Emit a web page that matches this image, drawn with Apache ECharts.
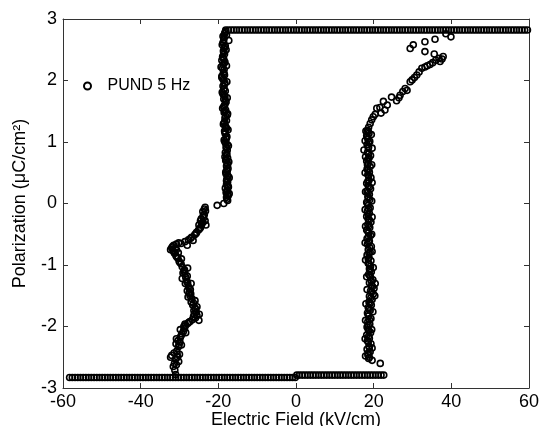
<!DOCTYPE html>
<html>
<head>
<meta charset="utf-8">
<script src="https://cdn.jsdelivr.net/npm/echarts@6/dist/echarts.min.js"></script>
<style>html,body{margin:0;padding:0;background:#fff}#c{width:541px;height:426px}</style>
</head>
<body>
<div id="c"></div>
<script>
// ---- data ----
var xTicks = [-60, -40, -20, 0, 20, 40, 60];
var yTicks = [-3, -2, -1, 0, 1, 2, 3];
var seriesName = 'PUND 5 Hz';

// flat saturated segments: x positions + their level
var bottomLeftLevel = -2.83;
var bottomLeftX = [-58.3,-57.6,-56.9,-56.2,-55.5,-54.8,-54.1,-53.4,-52.7,-52.0,-51.3,-50.6,-49.9,-49.2,-48.5,-47.8,-47.1,-46.4,-45.7,-45.0,-44.3,-43.6,-42.9,-42.2,-41.5,-40.8,-40.1,-39.4,-38.7,-38.0,-37.3,-36.6,-35.9,-35.2,-34.5,-33.8,-33.1,-32.4,-31.7,-31.0,-30.3,-29.6,-28.9,-28.2,-27.5,-26.8,-26.1,-25.4,-24.7,-24.0,-23.3,-22.6,-21.9,-21.2,-20.5,-19.8,-19.1,-18.4,-17.7,-17.0,-16.3,-15.6,-14.9,-14.2,-13.5,-12.8,-12.1,-11.4,-10.7,-10.0,-9.3,-8.6,-7.9,-7.2,-6.5,-5.8,-5.1,-4.4,-3.7,-3.0,-2.3,-1.6,-0.9,-0.2];
var bottomRightLevel = -2.79;
var bottomRightX = [0.2,0.9,1.6,2.3,3.0,3.7,4.4,5.1,5.8,6.5,7.2,7.9,8.6,9.3,10.0,10.7,11.4,12.1,12.8,13.5,14.2,14.9,15.6,16.3,17.0,17.7,18.4,19.1,19.8,20.5,21.2,21.9,22.6];
var topLevel = 2.82;
var topX = [-18.1,-17.4,-16.7,-16.0,-15.3,-14.6,-13.9,-13.2,-12.5,-11.8,-11.1,-10.4,-9.7,-9.0,-8.3,-7.6,-6.9,-6.2,-5.5,-4.8,-4.1,-3.4,-2.7,-2.0,-1.3,-0.6,0.1,0.8,1.5,2.2,2.9,3.6,4.3,5.0,5.7,6.4,7.1,7.8,8.5,9.2,9.9,10.6,11.3,12.0,12.7,13.4,14.1,14.8,15.5,16.2,16.9,17.6,18.3,19.0,19.7,20.4,21.1,21.8,22.5,23.2,23.9,24.6,25.3,26.0,26.7,27.4,28.1,28.8,29.5,30.2,30.9,31.6,32.3,33.0,33.7,34.4,35.1,35.8,36.5,37.2,37.9,38.6,39.3,40.0,40.7,41.4,42.1,42.8,43.5,44.2,44.9,45.6,46.3,47.0,47.7,48.4,49.1,49.8,50.5,51.2,51.9,52.6,53.3,54.0,54.7,55.4,56.1,56.8,57.5,58.2,58.9,59.6];

// negative-field switching branch (wiggly part), [E, P]
var leftWiggle = [[-31.0,-2.78],[-31.2,-2.71],[-31.6,-2.65],[-30.8,-2.62],[-30.2,-2.57],[-31.0,-2.53],[-32.0,-2.47],[-31.4,-2.43],[-30.7,-2.40],[-30.3,-2.33],[-30.9,-2.28],[-30.4,-2.23],[-29.8,-2.18],[-29.4,-2.12],[-29.0,-2.08],[-28.7,-2.03],[-28.4,-1.98],[-27.9,-1.95],[-27.3,-1.92],[-26.7,-1.89],[-25.9,-1.86],[-25.5,-1.82],[-25.7,-1.77],[-26.3,-1.74],[-25.5,-1.68],[-26.6,-1.65],[-27.0,-1.60],[-26.8,-1.55],[-27.3,-1.50],[-27.5,-1.45],[-27.2,-1.40],[-27.7,-1.35],[-27.9,-1.29],[-28.2,-1.24],[-28.0,-1.18],[-28.6,-1.14],[-29.1,-1.13],[-28.7,-1.08],[-29.3,-1.03],[-29.6,-0.98],[-30.1,-0.94],[-30.4,-0.89],[-30.9,-0.85],[-31.3,-0.81],[-31.7,-0.76],[-32.0,-0.72],[-31.5,-0.68],[-30.8,-0.66],[-29.6,-0.65],[-28.6,-0.62],[-27.7,-0.59],[-26.9,-0.55],[-26.1,-0.51],[-25.6,-0.47],[-25.1,-0.43],[-24.6,-0.39],[-24.3,-0.34],[-24.0,-0.30],[-23.4,-0.28],[-23.8,-0.23],[-23.6,-0.18],[-24.0,-0.13],[-23.4,-0.06],[-20.3,-0.03],[-18.6,0.00],
  [-30.5,-2.50],[-29.9,-2.25],[-28.9,-2.00],[-26.2,-1.80],[-26.0,-1.70],[-27.8,-1.52],[-28.5,-1.30],[-28.4,-1.20],[-29.5,-0.90],[-30.3,-0.80],[-31.1,-0.73],[-25.0,-0.35],[-24.4,-0.25],[-23.3,-0.12],
  [-31.3,-2.60],[-30.6,-2.45],[-30.1,-2.30],[-29.6,-2.15],[-28.6,-1.96],[-27.6,-1.93],[-26.4,-1.84],[-25.8,-1.72],[-26.4,-1.62],[-27.1,-1.47],[-27.5,-1.38],[-28.1,-1.27],[-28.8,-1.10],[-29.9,-0.96],[-30.7,-0.87],[-31.5,-0.78],[-31.8,-0.70],[-30.2,-0.64],[-27.2,-0.57],[-25.8,-0.49],[-24.8,-0.41],[-24.2,-0.32],[-23.9,-0.20],[-23.6,-0.09],
  [-32.3,-2.50],[-30.0,-2.45],[-29.5,-2.30],[-30.8,-2.20],[-28.4,-2.10],[-29.8,-2.05],[-24.9,-1.80],[-25.0,-1.90],[-26.0,-1.58],[-28.0,-1.42],[-27.0,-1.30],[-29.3,-1.22],[-27.9,-1.05],[-32.3,-0.75],[-30.8,-0.75],[-28.0,-0.68],[-26.5,-0.60],[-23.2,-0.35],[-24.6,-0.28]];

// negative coercive vertical band
var leftVertical = [[-17.6,0.05],[-17.9,0.10],[-17.5,0.14],[-18.0,0.18],[-17.7,0.22],[-17.4,0.27],[-17.9,0.31],[-17.6,0.35],[-17.8,0.40],[-17.5,0.44],[-18.0,0.48],[-17.7,0.53],[-17.5,0.57],[-17.9,0.61],[-17.7,0.66],[-18.1,0.70],[-17.6,0.74],[-17.9,0.79],[-18.2,0.83],[-17.7,0.87],[-18.0,0.92],[-17.7,0.96],[-18.3,1.00],[-18.0,1.05],[-17.8,1.09],[-18.2,1.13],[-18.4,1.18],[-17.9,1.22],[-18.2,1.26],[-18.5,1.31],[-17.9,1.35],[-18.3,1.39],[-17.7,1.44],[-18.5,1.48],[-18.1,1.52],[-18.6,1.57],[-18.3,1.61],[-18.0,1.65],[-18.6,1.70],[-18.3,1.74],[-18.8,1.78],[-18.2,1.83],[-18.5,1.87],[-18.8,1.91],[-18.3,1.96],[-18.6,2.00],[-19.1,2.05],[-18.4,2.09],[-18.7,2.13],[-18.5,2.18],[-19.3,2.22],[-18.8,2.26],[-18.3,2.30],[-18.6,2.35],[-18.9,2.39],[-18.4,2.43],[-18.7,2.48],[-18.5,2.52],[-18.2,2.56],[-18.8,2.61],[-17.3,2.65],[-18.6,2.66],[-18.8,2.72],[-18.4,2.76],[-18.1,2.80],
  [-17.8,0.07],[-17.5,0.12],[-17.8,0.20],[-17.6,0.29],[-17.9,0.37],[-17.6,0.46],[-17.8,0.55],[-17.6,0.63],[-18.0,0.72],[-17.8,0.81],[-17.9,0.90],[-18.1,0.98],[-17.9,1.07],[-18.3,1.16],[-18.0,1.24],[-18.4,1.33],[-18.1,1.42],[-18.3,1.50],[-18.5,1.59],[-18.2,1.68],[-18.5,1.76],[-18.6,1.85],[-18.4,1.94],[-18.8,2.02],[-18.5,2.11],[-18.9,2.20],[-18.5,2.28],[-18.8,2.37],[-18.6,2.46],[-18.4,2.54],[-18.7,2.63],[-18.5,2.70],[-18.3,2.78],
  [-17.2,0.16],[-18.2,0.25],[-17.2,0.42],[-18.1,0.51],[-17.3,0.68],[-18.3,0.76],[-17.4,0.94],[-18.5,1.03],[-17.5,1.20],[-18.7,1.29],[-17.6,1.46],[-18.9,1.55],[-17.7,1.72],[-19.0,1.81],[-17.8,1.98],[-19.1,2.07],[-17.9,2.24],[-19.1,2.33],[-18.0,2.50],[-19.0,2.58],[-17.9,2.74]];

// positive coercive vertical band
var rightVertical = [[19.6,-2.55],[21.7,-2.60],[18.9,-2.50],[18.5,-2.46],[19.1,-2.41],[18.3,-2.37],[18.8,-2.32],[19.3,-2.28],[18.4,-2.23],[18.9,-2.19],[18.2,-2.14],[19.2,-2.10],[18.6,-2.05],[18.3,-2.01],[19.0,-1.96],[18.5,-1.92],[19.3,-1.87],[18.7,-1.83],[18.4,-1.78],[19.1,-1.74],[18.6,-1.69],[19.4,-1.65],[18.8,-1.60],[19.6,-1.56],[18.9,-1.51],[19.9,-1.47],[19.2,-1.42],[20.1,-1.38],[19.5,-1.33],[18.9,-1.29],[19.8,-1.24],[19.2,-1.20],[18.7,-1.15],[19.4,-1.11],[18.9,-1.06],[19.2,-1.02],[18.6,-0.97],[19.3,-0.93],[18.8,-0.88],[18.3,-0.84],[19.1,-0.79],[18.6,-0.75],[19.4,-0.70],[18.4,-0.66],[18.9,-0.61],[18.3,-0.57],[19.2,-0.52],[18.7,-0.48],[18.2,-0.43],[19.0,-0.39],[18.5,-0.34],[19.3,-0.30],[18.6,-0.25],[18.2,-0.21],[18.9,-0.16],[18.4,-0.12],[19.1,-0.07],[18.6,-0.03],[18.2,0.02],[19.0,0.06],[18.5,0.11],[18.9,0.15],[18.3,0.20],[19.2,0.24],[18.6,0.29],[18.2,0.33],[18.8,0.38],[19.3,0.42],[18.5,0.47],[18.9,0.51],[18.3,0.56],[19.1,0.60],[18.6,0.65],[18.2,0.69],[18.8,0.74],[19.2,0.78],[18.4,0.83],[17.5,0.87],[18.7,0.92],[18.3,0.96],[19.0,1.01],[18.5,1.05],[18.2,1.10],[18.8,1.14],[18.4,1.19],
  [18.7,-2.52],[18.6,-2.43],[18.9,-2.34],[18.6,-2.25],[18.7,-2.16],[18.8,-2.07],[18.6,-1.98],[18.9,-1.89],[18.6,-1.80],[18.9,-1.71],[19.1,-1.62],[19.3,-1.53],[19.5,-1.44],[19.7,-1.35],[19.4,-1.26],[19.0,-1.17],[19.1,-1.08],[18.9,-0.99],[18.6,-0.90],[18.8,-0.81],[19.0,-0.72],[18.7,-0.63],[18.7,-0.54],[18.5,-0.45],[18.8,-0.36],[18.9,-0.27],[18.6,-0.18],[18.7,-0.09],[18.4,0.00],[18.7,0.09],[18.6,0.18],[18.9,0.27],[18.5,0.36],[18.7,0.45],[18.6,0.54],[18.4,0.63],[18.5,0.72],[18.7,0.81],[18.6,0.90],[18.7,0.99],[18.4,1.08],[18.6,1.17],
  [17.9,-2.48],[19.6,-2.35],[17.8,-2.20],[19.5,-2.05],[17.9,-1.90],[19.8,-1.76],[18.0,-1.63],[20.3,-1.50],[18.3,-1.40],[20.4,-1.30],[18.2,-1.19],[19.9,-1.04],[17.9,-0.92],[19.6,-0.78],[17.8,-0.64],[19.5,-0.50],[17.9,-0.37],[19.6,-0.22],[17.8,-0.10],[19.5,0.04],[17.9,0.19],[19.6,0.34],[17.8,0.50],[19.5,0.63],[17.9,0.76],[19.6,0.90],[17.8,1.02],[19.4,1.12],[18.0,1.18]];

// positive branch bending towards saturation
var rightCurve = [[18.7,1.24],[19.1,1.30],[19.5,1.36],[19.9,1.41],[20.4,1.45],[20.8,1.55],[21.6,1.56],[22.5,1.66],[22.9,1.52],[21.9,1.47],[23.5,1.60],[24.6,1.73],[25.9,1.67],[26.5,1.72],[26.8,1.76],[27.5,1.82],[28.1,1.87],[28.6,1.84],[29.4,1.98],[29.9,2.01],[30.5,2.05],[31.1,2.09],[31.7,2.14],[32.4,2.20],[33.2,2.22],[33.8,2.24],[34.5,2.26],[35.2,2.29],[36.0,2.33],[36.8,2.36],[37.9,2.39],[37.1,2.31],[37.6,2.35],
  [29.4,2.52],[30.2,2.58],[33.2,2.63],[33.2,2.47],[35.6,2.43],[35.8,2.67],[38.6,2.76],[39.9,2.71]];

// ---- build the option ----
var pts = [];
bottomLeftX.forEach(function (x) { pts.push([x, bottomLeftLevel]); });
bottomRightX.forEach(function (x) { pts.push([x, bottomRightLevel]); });
topX.forEach(function (x) { pts.push([x, topLevel]); });
[leftWiggle, leftVertical, rightVertical, rightCurve].forEach(function (arr) {
  arr.forEach(function (p) { pts.push(p); });
});

var font = 'Arial, "Liberation Sans", sans-serif';
var axisLine = { show: true, onZero: false, lineStyle: { color: '#333', width: 1 } };
var tickStyle = { show: true, inside: true, length: 5, lineStyle: { color: '#333' } };

var chart = echarts.init(document.getElementById('c'), null, { renderer: 'canvas' });
chart.setOption({
  animation: false,
  backgroundColor: '#fff',
  textStyle: { fontFamily: font, color: '#000' },
  grid: { left: 63, right: 12, top: 19, bottom: 38, containLabel: false, outerBoundsMode: 'none' },
  legend: {
    data: [seriesName],
    left: 78, top: 73,
    itemWidth: 30, itemHeight: 7,
    textStyle: { fontFamily: font, fontSize: 16, color: '#000' },
    selectedMode: false
  },
  xAxis: [{
    type: 'value', min: xTicks[0], max: xTicks[xTicks.length - 1], interval: 20,
    name: 'Electric Field (kV/cm)', nameLocation: 'middle', nameGap: 23, nameMoveOverlap: false,
    nameTextStyle: { fontFamily: font, fontSize: 18, color: '#000' },
    axisLine: axisLine, axisTick: tickStyle,
    axisLabel: { fontFamily: font, fontSize: 18, color: '#000', margin: 5 },
    splitLine: { show: false }
  }, {
    type: 'value', position: 'top', min: xTicks[0], max: xTicks[xTicks.length - 1], interval: 20,
    axisLine: axisLine, axisTick: tickStyle, axisLabel: { show: false }, splitLine: { show: false }
  }],
  yAxis: [{
    type: 'value', min: yTicks[0], max: yTicks[yTicks.length - 1], interval: 1,
    name: 'Polarization (μC/cm²)', nameLocation: 'middle', nameGap: 34, nameMoveOverlap: false,
    nameTextStyle: { fontFamily: font, fontSize: 18, color: '#000' },
    axisLine: axisLine, axisTick: tickStyle,
    axisLabel: { fontFamily: font, fontSize: 18, color: '#000', margin: 6 },
    splitLine: { show: false }
  }, {
    type: 'value', position: 'right', min: yTicks[0], max: yTicks[yTicks.length - 1], interval: 1,
    axisLine: axisLine, axisTick: tickStyle, axisLabel: { show: false }, splitLine: { show: false }
  }],
  series: [{
    name: seriesName,
    type: 'scatter',
    symbol: 'circle',
    symbolSize: 6,
    itemStyle: { color: 'rgba(255,255,255,0)', borderColor: '#000', borderWidth: 1.6, opacity: 1 },
    emphasis: { disabled: true },
    data: pts
  }]
});
</script>
</body>
</html>
